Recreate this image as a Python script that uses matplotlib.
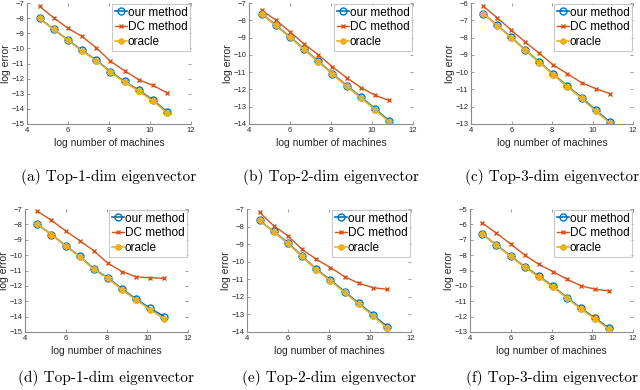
import matplotlib
matplotlib.use("Agg")
import matplotlib.pyplot as plt

# log number of machines (same for every panel)
x_vals = [4.61, 5.30, 5.99, 6.68, 7.38, 8.07, 8.76, 9.46, 10.15, 10.84]

# top row
ours_a = [-8.02, -8.73, -9.44, -10.14, -10.78, -11.54, -12.19, -12.77, -13.42, -14.20]
dc_a = [-7.22, -7.97, -8.66, -9.21, -9.96, -10.85, -11.48, -12.08, -12.45, -12.95]
oracle_a = [-8.02, -8.74, -9.46, -10.17, -10.81, -11.58, -12.23, -12.83, -13.48, -14.26]

ours_b = [-7.62, -8.27, -8.95, -9.65, -10.37, -11.08, -11.78, -12.44, -13.12, -13.82]
dc_b = [-7.42, -7.98, -8.65, -9.37, -9.99, -10.69, -11.32, -11.89, -12.34, -12.64]
oracle_b = [-7.64, -8.30, -8.98, -9.68, -10.40, -11.11, -11.82, -12.49, -13.17, -13.88]

ours_c = [-6.61, -7.30, -7.98, -8.72, -9.42, -10.13, -10.80, -11.47, -12.18, -12.87]
dc_c = [-6.19, -6.86, -7.57, -8.26, -8.92, -9.59, -10.09, -10.61, -10.95, -11.24]
oracle_c = [-6.61, -7.31, -8.00, -8.74, -9.45, -10.16, -10.84, -11.52, -12.24, -12.93]

# bottom row
ours_d = [-8.00, -8.66, -9.38, -10.07, -10.89, -11.48, -12.20, -12.86, -13.47, -14.00]
dc_d = [-7.15, -7.74, -8.42, -9.05, -9.72, -10.53, -11.07, -11.41, -11.47, -11.51]
oracle_d = [-8.00, -8.67, -9.40, -10.09, -10.93, -11.52, -12.25, -12.92, -13.55, -14.15]

ours_e = [-7.65, -8.28, -8.91, -9.67, -10.43, -11.04, -11.70, -12.37, -13.02, -13.70]
dc_e = [-7.19, -7.95, -8.52, -9.29, -9.86, -10.33, -10.85, -11.23, -11.48, -11.57]
oracle_e = [-7.65, -8.30, -8.95, -9.70, -10.46, -11.08, -11.75, -12.42, -13.08, -13.78]

ours_f = [-6.64, -7.34, -8.05, -8.75, -9.37, -10.02, -10.76, -11.47, -12.10, -12.77]
dc_f = [-5.92, -6.57, -7.27, -7.99, -8.60, -9.07, -9.57, -10.00, -10.22, -10.33]
oracle_f = [-6.64, -7.36, -8.08, -8.78, -9.42, -10.06, -10.80, -11.52, -12.16, -12.83]

ylims = [(-15, -7), (-14, -7), (-13, -6), (-15, -7), (-14, -7), (-13, -5)]
captions = ['(a) Top-1-dim eigenvector', '(b) Top-2-dim eigenvector',
            '(c) Top-3-dim eigenvector', '(d) Top-1-dim eigenvector',
            '(e) Top-2-dim eigenvector', '(f) Top-3-dim eigenvector']
panels = [(ours_a, dc_a, oracle_a), (ours_b, dc_b, oracle_b), (ours_c, dc_c, oracle_c),
          (ours_d, dc_d, oracle_d), (ours_e, dc_e, oracle_e), (ours_f, dc_f, oracle_f)]

W, H = 640, 390
# axes boxes in pixels: left, top, right, bottom
boxes = [(27, 3, 191, 124), (249, 3, 413, 124), (471, 3, 633, 124),
         (25, 209, 188, 332), (247, 209, 411, 332), (470, 209, 633, 332)]

blue, red, yellow = '#0072BD', '#D95319', '#EDB120'

plt.rcParams['font.family'] = ['Liberation Sans', 'DejaVu Sans']
fig = plt.figure(figsize=(6.4, 3.9), dpi=100)

for i, (l, t, r, b) in enumerate(boxes):
    ax = fig.add_axes([l / W, 1 - b / H, (r - l) / W, (b - t) / H])
    ours, dc, oracle = panels[i]
    ax.plot(x_vals, ours, color=blue, marker='o', ms=5, mfc='none', mew=1.0, lw=1.2, label='our method')
    ax.plot(x_vals, dc, color=red, marker='x', ms=3.5, mew=1.0, lw=1.0, label='DC method')
    ax.plot(x_vals, oracle, color=yellow, marker=(6, 2, 0), ms=4.5, mew=1.5, lw=1.2, label='oracle')
    ax.set_xlim(4, 12)
    ax.set_ylim(*ylims[i])
    ax.set_xticks([4, 6, 8, 10, 12])
    ax.set_yticks(range(ylims[i][0], ylims[i][1] + 1))
    for s in ['top', 'right']:
        ax.spines[s].set_visible(False)
    for s in ['left', 'bottom']:
        ax.spines[s].set_color('#8c8c8c')
        ax.spines[s].set_linewidth(0.8)
    ax.tick_params(direction='in', length=2, width=0.6, labelsize=5.5,
                   colors='#8c8c8c', labelcolor='#262626', top=True, right=True, pad=2)
    ax.set_xlabel('log number of machines', fontsize=7.5, labelpad=3, color='#262626')
    ax.set_ylabel('log error', fontsize=7.5, labelpad=0, color='#262626')
    leg = ax.legend(loc='upper right', fontsize=8.5, handlelength=1.0, handletextpad=0.1,
                    borderpad=0.2, labelspacing=0.25, borderaxespad=0.1, fancybox=False)
    leg.get_frame().set_edgecolor('#bbbbbb')
    leg.get_frame().set_linewidth(0.8)
    cy = 177 if i < 3 else 378
    fig.text((l + r) / 2 / W, 1 - cy / H, captions[i], ha='center', va='center',
             fontsize=11, family='cmr10')

fig.savefig('out.png', dpi=100)
